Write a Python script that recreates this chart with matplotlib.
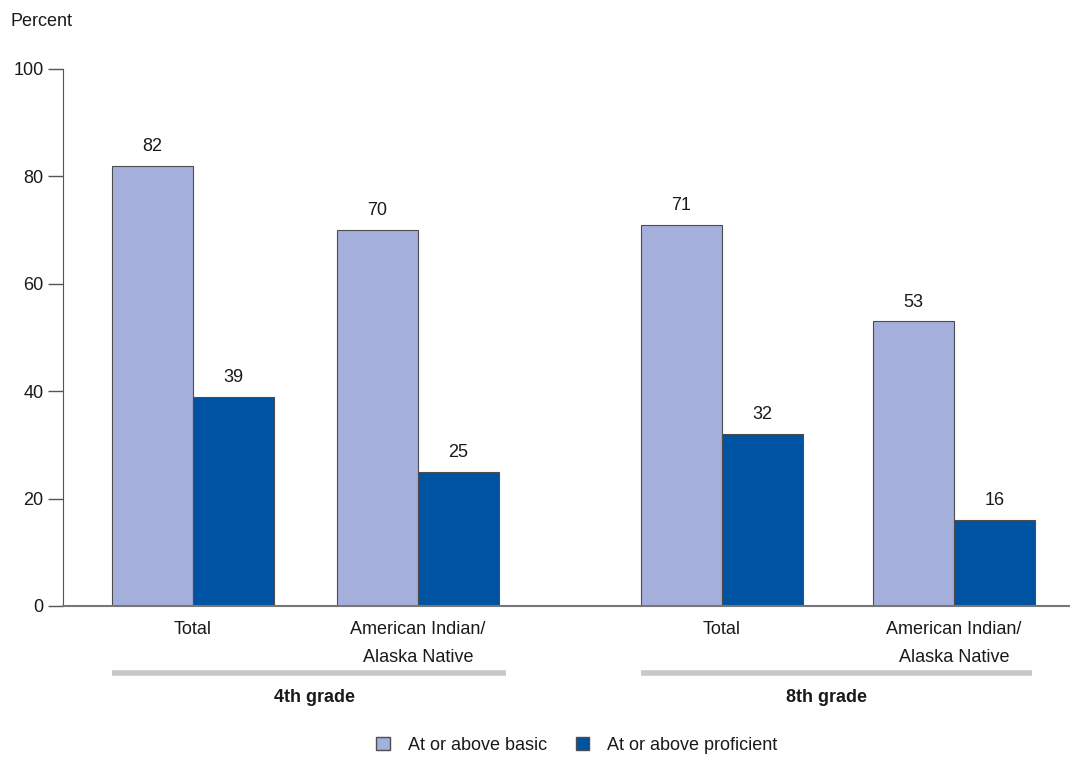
import matplotlib
matplotlib.use('Agg')
import matplotlib.pyplot as plt
from matplotlib.patches import Patch

plt.rcParams['font.family'] = ['Liberation Sans', 'DejaVu Sans']
plt.rcParams['text.color'] = '#1a1a1a'

# data
categories = ['Total', 'American Indian/\nAlaska Native', 'Total', 'American Indian/\nAlaska Native']
groups = ['4th grade', '8th grade']
basic = [82, 70, 71, 53]
proficient = [39, 25, 32, 16]
series_names = ['At or above basic', 'At or above proficient']

LIGHT = '#a4afdb'
DARK = '#0053a2'
EDGE = '#4d4d4d'
FS = 13

# pair centres in pixel-like axis units (axis spans 0..1007)
centers = [130, 355, 659, 891]
width = 81

fig = plt.figure(figsize=(10.7, 7.58), dpi=100)
ax = fig.add_axes([63/1070, 152/758, 1 - 63/1070, 537/758])

for c, b, p in zip(centers, basic, proficient):
    ax.bar(c - width/2, b, width, color=LIGHT, edgecolor=EDGE, linewidth=0.8)
    ax.bar(c + width/2, p, width, color=DARK, edgecolor=EDGE, linewidth=0.8)
    ax.text(c - width/2, b + 2.0, str(b), ha='center', va='bottom', fontsize=FS)
    ax.text(c + width/2, p + 2.0, str(p), ha='center', va='bottom', fontsize=FS)

ax.set_xlim(0, 1007)
ax.set_ylim(0, 100)
ax.set_yticks([0, 20, 40, 60, 80, 100])
ax.tick_params(axis='y', length=11, width=1, color='#555555', labelsize=FS, pad=3,
               labelcolor='#1a1a1a')
ax.set_xticks(centers)
ax.set_xticklabels(categories, fontsize=FS, linespacing=1.85)
ax.tick_params(axis='x', length=0, pad=11, labelcolor='#1a1a1a')
for s in ['top', 'right']:
    ax.spines[s].set_visible(False)
ax.spines['left'].set_color('#555555')
ax.spines['bottom'].set_color('#777777')
ax.spines['bottom'].set_linewidth(1.5)

fig.text(10/1070, 1 - 22/758, 'Percent', fontsize=FS, va='center', ha='left')

# group lines and labels
for (x0, x1), xc, g in zip([(112, 506), (641, 1032)], [315, 826], groups):
    fig.add_artist(plt.Line2D([x0/1070, x1/1070], [1 - 673/758] * 2, color='#c8c8c8', lw=4,
                              solid_capstyle='butt'))
    fig.text(xc / 1070, 1 - 697/758, g, ha='center', va='center', fontsize=FS,
             fontweight='bold')

handles = [Patch(facecolor=LIGHT, edgecolor=EDGE), Patch(facecolor=DARK, edgecolor=EDGE)]
fig.legend(handles, series_names, loc='center', bbox_to_anchor=(577/1070, 1 - 745/758),
           ncol=2, frameon=False, fontsize=FS, handlelength=0.75, handleheight=0.75,
           columnspacing=1.6, handletextpad=1.0)

fig.savefig('out.png', dpi=100)
